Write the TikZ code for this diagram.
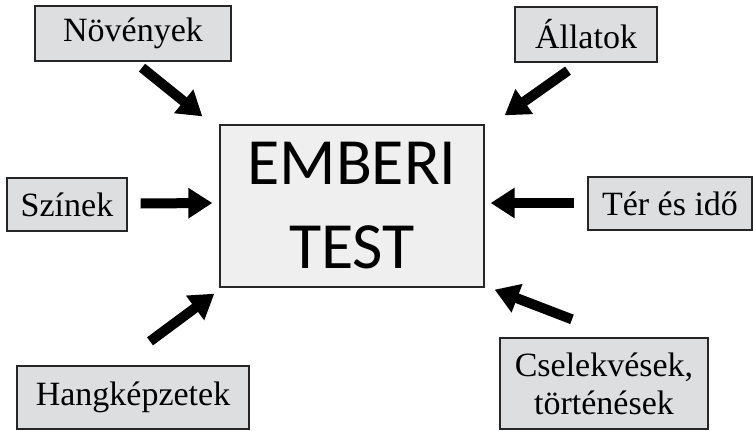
\documentclass[tikz,border=0pt]{standalone}
\usepackage{fontspec}
\setmainfont{Liberation Serif}
\newfontfamily\titlefont{Carlito}
\usetikzlibrary{arrows.meta, calc}
\definecolor{labelgray}{HTML}{DDDEE0}
\definecolor{maingray}{HTML}{EFEFEF}
\tikzset{
    labelbox/.style={rectangle, draw=black!85, line width=1.3pt, fill=labelgray, align=center, font=\fontsize{34}{38}\selectfont, inner sep=0pt},
    mainbox/.style={rectangle, draw=black!85, line width=1.3pt, fill=maingray, align=center, font=\titlefont\fontsize{66}{84}\selectfont, inner sep=0pt},
    bigarrow/.style={line width=10pt, -{Triangle[length=24pt,width=29pt]}, black},
}
\begin{document}
\begin{tikzpicture}[x=1pt, y=-1pt]
\useasboundingbox (0,0) rectangle (753,431);

\node[mainbox, minimum width=264pt, minimum height=162pt] (body) at (352,206) {EMBERI\\TEST};

\node[labelbox, minimum width=196pt, minimum height=55pt] (plants) at (133,33.5) {Növények};
\node[labelbox, minimum width=142pt, minimum height=55pt] (animals) at (586,34.5) {Állatok};
\node[labelbox, minimum width=120pt, minimum height=53pt] (colours) at (67,204.5) {Színek};
\node[labelbox, minimum width=164pt, minimum height=53pt] (spacetime) at (670,203.5) {Tér és idő};
\node[labelbox, minimum width=232pt, minimum height=63pt] (sounds) at (133,397.5) {Hangképzetek};
\node[labelbox, minimum width=208pt, minimum height=91pt, font=\fontsize{34}{38}\selectfont] (actions) at (604,383.5) {Cselekvések,\\történések};

% arrows towards the centre
\draw[bigarrow] ($(plants.south)+(9,6)$) -- ($(body.north west)+(-17,-8)$);
\draw[bigarrow] ($(animals.south)+(-18,8)$) -- ($(body.north east)+(20,-9)$);
\draw[bigarrow] ($(colours.east)+(13,-1)$) -- ($(body.west)+(-7,-3)$);
\draw[bigarrow] ($(spacetime.west)+(-13,-0.5)$) -- ($(body.east)+(6,-3)$);
\draw[bigarrow] ($(sounds.north)+(17,-24)$) -- ($(body.south west)+(-5,6)$);
\draw[bigarrow] ($(actions.north)+(-32,-18)$) -- ($(body.south east)+(10,2)$);
\end{tikzpicture}
\end{document}
